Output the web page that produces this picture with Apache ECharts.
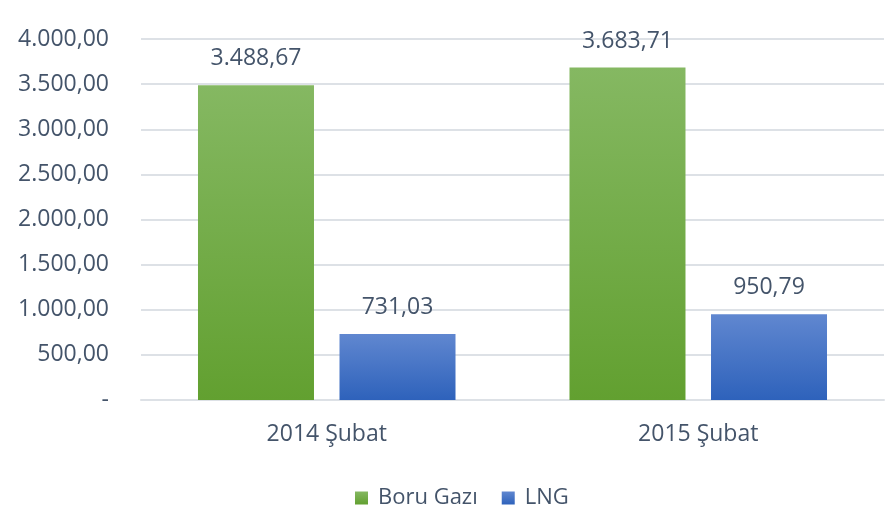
<!DOCTYPE html>
<html>
<head>
<meta charset="utf-8">
<script src="https://cdn.jsdelivr.net/npm/echarts@6/dist/echarts.min.js"></script>
<style>
  html, body { margin: 0; padding: 0; background: #fff; }
  #chart { width: 887px; height: 511px; }
</style>
</head>
<body>
<div id="chart"></div>
<script>
const categories = ['2014 Şubat', '2015 Şubat']
const boruGazi = [3488.67, 3683.71]
const lng = [731.03, 950.79]
const seriesNames = ['Boru Gazı', 'LNG']

const textColor = '#44546a'
const fontFamily = '"Open Sans", "Noto Sans", sans-serif'

// Turkish number format: 3.488,67 ; zero shown as "-"
function fmt(v) {
  if (v === 0) return '-'
  const parts = v.toFixed(2).split('.')
  const intPart = parts[0].replace(/\B(?=(\d{3})+(?!\d))/g, '.')
  return intPart + ',' + parts[1]
}

function grad(top, bottom) {
  return new echarts.graphic.LinearGradient(0, 0, 0, 1, [
    { offset: 0, color: top },
    { offset: 1, color: bottom }
  ])
}

const chart = echarts.init(document.getElementById('chart'))

chart.setOption({
  animation: false,
  textStyle: { fontFamily: fontFamily },
  grid: { left: 141, right: 3, top: 39, bottom: 111 },
  legend: {
    top: 482,
    left: 350,
    itemWidth: 13,
    itemHeight: 13,
    itemGap: 24,
    icon: 'rect',
    textStyle: { color: textColor, fontSize: 22, fontFamily: fontFamily, padding: [0, 0, 0, 5] },
    data: seriesNames
  },
  xAxis: {
    type: 'category',
    data: categories,
    axisLine: { lineStyle: { color: '#dde1e6', width: 2 } },
    axisTick: { show: false },
    axisLabel: { color: textColor, fontSize: 23, margin: 23 }
  },
  yAxis: {
    type: 'value',
    min: 0,
    max: 4000,
    interval: 500,
    axisLine: { show: false },
    axisTick: { show: false },
    axisLabel: { color: textColor, fontSize: 23, margin: 32, formatter: fmt },
    splitLine: { lineStyle: { color: '#dde1e6', width: 2 } }
  },
  series: [
    {
      name: seriesNames[0],
      type: 'bar',
      data: boruGazi,
      barWidth: 116,
      barGap: '22%',
      itemStyle: { color: grad('#85b862', '#62a030') },
      label: {
        show: true,
        position: 'top',
        distance: 15,
        color: textColor,
        fontSize: 23,
        formatter: p => fmt(p.value)
      }
    },
    {
      name: seriesNames[1],
      type: 'bar',
      data: lng,
      barWidth: 116,
      barGap: '22%',
      itemStyle: { color: grad('#6087d0', '#2e62bb') },
      label: {
        show: true,
        position: 'top',
        distance: 15,
        color: textColor,
        fontSize: 23,
        formatter: p => fmt(p.value)
      }
    }
  ]
})
</script>
</body>
</html>
